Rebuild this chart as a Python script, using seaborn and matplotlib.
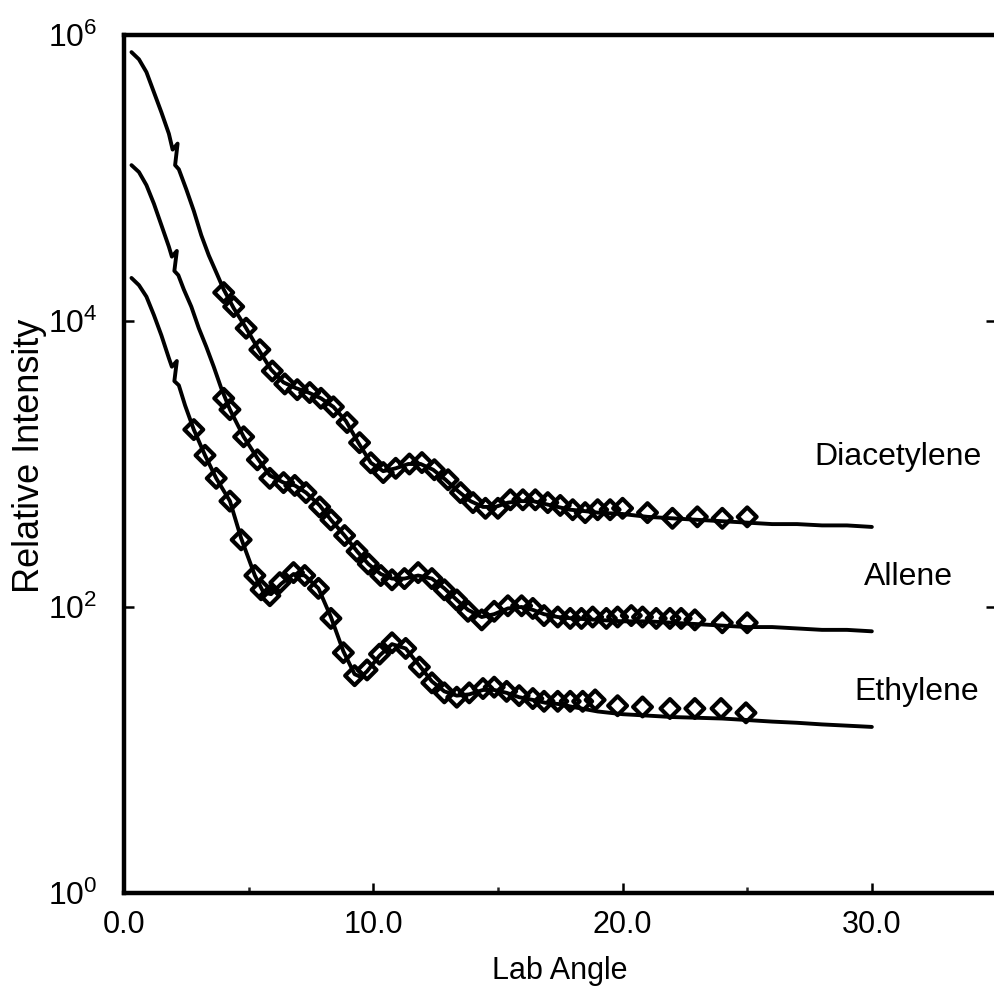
import matplotlib
matplotlib.use("Agg")
import matplotlib.pyplot as plt
import seaborn as sns
from matplotlib.ticker import FixedLocator, FixedFormatter, NullLocator

# ---- Data -------------------------------------------------------------
species = ["Diacetylene", "Allene", "Ethylene"]

# measured points (lab angle in degrees, relative intensity)
diac_angle = [4.0, 4.4, 4.9, 5.45, 5.95, 6.45, 6.95, 7.45, 7.9, 8.4, 8.95, 9.45,
              9.9, 10.4, 10.9, 11.45, 11.95, 12.45, 13.0, 13.5, 14.0, 14.5, 15.0,
              15.5, 16.0, 16.5, 17.0, 17.5, 18.0, 18.5, 19.0, 19.5, 20.0, 21.0,
              22.0, 23.0, 24.0, 25.0]
diac_int = [1.58e4, 1.26e4, 8.9e3, 6.3e3, 4.47e3, 3.63e3, 3.31e3, 3.16e3, 2.88e3,
            2.51e3, 1.95e3, 1.41e3, 1.02e3, 871, 933, 1000, 1023, 912, 776, 631,
            537, 490, 490, 562, 562, 562, 537, 513, 479, 457, 479, 479, 490, 457,
            417, 427, 417, 427]

allene_angle = [4.0, 4.25, 4.8, 5.35, 5.85, 6.4, 6.85, 7.3, 7.85, 8.3, 8.85, 9.35,
                9.8, 10.3, 10.75, 11.25, 11.8, 12.35, 12.85, 13.35, 13.8, 14.35,
                14.85, 15.4, 15.95, 16.4, 16.85, 17.4, 17.9, 18.35, 18.8, 19.35,
                19.8, 20.35, 20.8, 21.35, 21.9, 22.35, 22.9, 24.0, 25.0]
allene_int = [2.88e3, 2.40e3, 1.55e3, 1.07e3, 794, 741, 708, 631, 501, 407, 316,
              245, 200, 166, 155, 158, 174, 158, 132, 112, 93.3, 81.3, 93.3, 102,
              102, 97.7, 87.1, 85.1, 83.2, 83.2, 85.1, 83.2, 85.1, 87.1, 85.1, 83.2,
              83.2, 83.2, 81.3, 77.6, 77.6]

ethyl_angle = [2.8, 3.25, 3.7, 4.25, 4.7, 5.25, 5.5, 5.85, 6.25, 6.8, 7.25, 7.8,
               8.3, 8.8, 9.25, 9.75, 10.25, 10.75, 11.3, 11.85, 12.35, 12.85, 13.35,
               13.85, 14.4, 14.85, 15.35, 15.85, 16.4, 16.85, 17.4, 17.9, 18.4,
               18.9, 19.8, 20.8, 21.9, 22.9, 23.95, 24.95]
ethyl_int = [1.74e3, 1.15e3, 794, 550, 295, 166, 132, 120, 148, 174, 166, 135,
             83.2, 47.9, 33.1, 36.3, 46.8, 56.2, 51.3, 38.0, 29.5, 25.1, 23.4, 25.1,
             26.9, 27.5, 25.7, 24.0, 22.9, 21.9, 21.9, 21.9, 21.9, 22.4, 20.4, 20.0,
             19.5, 19.5, 19.5, 18.2]

# calculated curves
diac_fit_angle = [0.3, 0.6, 0.9, 1.2, 1.5, 1.8, 1.95, 2.15, 2.05, 2.2, 2.5, 2.8,
                  3.1, 3.4, 3.7, 4.0, 4.4, 4.9, 5.4, 5.9, 6.4, 6.9, 7.4, 7.9, 8.4,
                  8.9, 9.4, 9.9, 10.4, 10.9, 11.4, 11.9, 12.4, 12.9, 13.4, 13.9,
                  14.4, 14.9, 15.4, 15.9, 16.4, 16.9, 17.4, 17.9, 18.5, 19.0, 20.0,
                  21.0, 22.0, 23.0, 24.0, 25.0, 26.0, 27.0, 28.0, 29.0, 30.0]
diac_fit_int = [7.59e5, 6.76e5, 5.50e5, 3.98e5, 2.88e5, 2.04e5, 1.58e5, 1.74e5,
                1.23e5, 1.15e5, 8.32e4, 5.89e4, 3.98e4, 2.88e4, 2.19e4, 1.66e4,
                1.23e4, 8.91e3, 6.31e3, 4.57e3, 3.72e3, 3.39e3, 3.16e3, 2.88e3,
                2.51e3, 2.00e3, 1.41e3, 1.02e3, 891, 933, 1000, 1000, 912, 776, 646,
                550, 501, 501, 537, 550, 550, 525, 501, 479, 468, 457, 447, 427,
                417, 407, 398, 389, 380, 380, 372, 372, 363]

allene_fit_angle = [0.3, 0.6, 0.9, 1.2, 1.5, 1.8, 1.92, 2.12, 2.02, 2.18, 2.4, 2.7,
                    3.0, 3.3, 3.6, 3.9, 4.25, 4.8, 5.35, 5.85, 6.4, 6.85, 7.3, 7.85,
                    8.3, 8.85, 9.35, 9.8, 10.3, 10.75, 11.25, 11.8, 12.35, 12.85,
                    13.35, 13.8, 14.35, 14.85, 15.4, 15.95, 16.4, 16.85, 17.4, 18.0,
                    19.0, 20.0, 21.0, 22.0, 23.0, 24.0, 25.0, 26.0, 27.0, 28.0,
                    29.0, 30.0]
allene_fit_int = [1.23e5, 1.10e5, 8.91e4, 6.61e4, 4.68e4, 3.31e4, 2.82e4, 3.09e4,
                  2.24e4, 2.09e4, 1.66e4, 1.26e4, 8.91e3, 6.61e3, 4.79e3, 3.39e3,
                  2.40e3, 1.55e3, 1.10e3, 832, 741, 708, 631, 513, 407, 316, 245,
                  200, 170, 158, 158, 166, 158, 135, 112, 95.5, 85.1, 89.1, 97.7,
                  100, 95.5, 89.1, 85.1, 83.2, 81.3, 79.4, 79.4, 77.6, 75.9, 74.1,
                  72.4, 72.4, 70.8, 69.2, 69.2, 67.6]

ethyl_fit_angle = [0.3, 0.6, 0.9, 1.2, 1.5, 1.8, 1.92, 2.12, 2.02, 2.2, 2.45, 2.8,
                   3.25, 3.7, 4.25, 4.7, 5.25, 5.6, 5.9, 6.3, 6.8, 7.25, 7.8, 8.3,
                   8.8, 9.25, 9.5, 9.75, 10.25, 10.75, 11.3, 11.85, 12.35, 12.85,
                   13.35, 13.85, 14.4, 14.85, 15.35, 15.85, 16.4, 16.9, 17.5, 18.0,
                   19.0, 20.0, 21.0, 22.0, 23.0, 24.0, 25.0, 26.0, 27.0, 28.0,
                   29.0, 30.0]
ethyl_fit_int = [2.00e4, 1.78e4, 1.48e4, 1.10e4, 7.94e3, 5.50e3, 4.79e3, 5.25e3,
                 3.80e3, 3.55e3, 2.57e3, 1.74e3, 1.15e3, 794, 550, 302, 166, 126,
                 123, 145, 170, 166, 135, 85.1, 49.0, 33.9, 32.4, 35.5, 45.7, 55.0,
                 51.3, 38.9, 30.2, 25.7, 24.0, 24.5, 26.3, 26.3, 25.1, 23.4, 22.4,
                 21.4, 20.9, 20.0, 18.6, 17.8, 17.4, 17.0, 16.8, 16.6, 16.2, 15.8,
                 15.5, 15.1, 14.8, 14.5]

x_ticks = [0, 10, 20, 30]
x_tick_labels = ["0.0", "10.0", "20.0", "30.0"]
x_minor_ticks = [5, 15, 25]
y_ticks = [1, 1e2, 1e4, 1e6]
y_tick_labels = [r"$\mathdefault{10^{0}}$", r"$\mathdefault{10^{2}}$",
                 r"$\mathdefault{10^{4}}$", r"$\mathdefault{10^{6}}$"]

# ---- Style ------------------------------------------------------------
sns.set_theme(style="ticks")
plt.rcParams["font.family"] = ["Liberation Sans", "DejaVu Sans"]
plt.rcParams["mathtext.fontset"] = "custom"
plt.rcParams["mathtext.rm"] = "Liberation Sans"
plt.rcParams["mathtext.default"] = "regular"

fig = plt.figure(figsize=(9.95, 9.93), dpi=100)
ax = fig.add_axes([124 / 995, 100 / 993, 872.5 / 995, 858 / 993])

curves = [(diac_fit_angle, diac_fit_int), (allene_fit_angle, allene_fit_int),
          (ethyl_fit_angle, ethyl_fit_int)]
points = [(diac_angle, diac_int), (allene_angle, allene_int),
          (ethyl_angle, ethyl_int)]

for xs, ys in curves:
    sns.lineplot(x=xs, y=ys, sort=False, estimator=None, color="black",
                 linewidth=2.8, ax=ax, zorder=2)

for xs, ys in points:
    sns.scatterplot(x=xs, y=ys, marker="D", s=92, ax=ax, zorder=3)
    coll = ax.collections[-1]
    coll.set_facecolor("none")
    coll.set_edgecolor("black")
    coll.set_linewidth(3.0)

ax.set_yscale("log")
ax.set_xlim(0, 35)
ax.set_ylim(1, 1e6)

ax.xaxis.set_major_locator(FixedLocator(x_ticks))
ax.xaxis.set_major_formatter(FixedFormatter(x_tick_labels))
ax.xaxis.set_minor_locator(FixedLocator(x_minor_ticks))
ax.yaxis.set_major_locator(FixedLocator(y_ticks))
ax.yaxis.set_major_formatter(FixedFormatter(y_tick_labels))
ax.yaxis.set_minor_locator(NullLocator())

for side in ["left", "bottom", "top", "right"]:
    ax.spines[side].set_visible(True)
    ax.spines[side].set_linewidth(3.2)
    ax.spines[side].set_color("black")

ax.tick_params(axis="x", which="major", direction="in", length=7, width=1.8,
               top=False, labelsize=22, pad=12, colors="black")
ax.tick_params(axis="x", which="minor", direction="in", length=4.5, width=1.8,
               top=False)
ax.tick_params(axis="y", which="major", direction="in", length=7, width=1.8,
               right=True, labelsize=23, pad=19, colors="black")

ax.set_xlabel("Lab Angle", fontsize=22, color="black")
ax.xaxis.set_label_coords(0.5, -0.074)
ax.set_ylabel("Relative Intensity", fontsize=26, color="black", va="center")
ax.yaxis.set_label_coords(-0.108, 0.51)

# species names beside each curve
name_pos = [(31.05, 984), (31.45, 142.6), (31.8, 22.4)]
for name, (tx, ty) in zip(species, name_pos):
    ax.text(tx, ty, name, ha="center", va="baseline", fontsize=23,
            color="black", clip_on=False)

fig.savefig("out.png", dpi=100)
